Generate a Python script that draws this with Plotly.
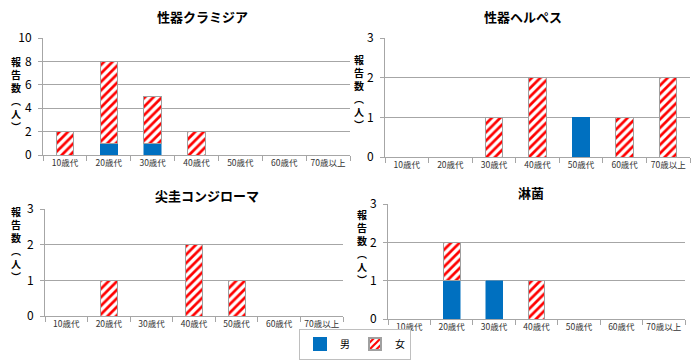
import plotly.graph_objects as go

categories = ["10歳代", "20歳代", "30歳代", "40歳代", "50歳代", "60歳代", "70歳以上"]

titles = ["性器クラミジア", "性器ヘルペス", "尖圭コンジローマ", "淋菌"]
y_title_chars = ["報", "告", "数", "︵", "人", "︶"]

chlamydia_male = [0, 1, 1, 0, 0, 0, 0]
chlamydia_female = [2, 7, 4, 2, 0, 0, 0]
herpes_male = [0, 0, 0, 0, 1, 0, 0]
herpes_female = [0, 0, 1, 2, 0, 1, 2]
condyloma_male = [0, 0, 0, 0, 0, 0, 0]
condyloma_female = [0, 1, 0, 2, 1, 0, 0]
gonorrhea_male = [0, 1, 1, 0, 0, 0, 0]
gonorrhea_female = [0, 1, 0, 1, 0, 0, 0]

y_max = [10, 3, 3, 3]
y_dtick = [2, 1, 1, 1]

male_series = [chlamydia_male, herpes_male, condyloma_male, gonorrhea_male]
female_series = [chlamydia_female, herpes_female, condyloma_female, gonorrhea_female]

W, H = 700, 361
# plot areas in pixels: (x0, x1, ytop, ybottom)
areas = [(43, 350, 38, 155), (385, 690, 38, 157), (45, 343, 209, 316), (388, 685, 204, 319)]
title_pos = [(202, 17), (523, 17), (207, 196), (531, 192)]
ytitle_pos = [(16, 94), (359, 92), (16, 244), (362, 247)]

BLUE = "#0070C0"
RED = "#FF0000"
GRID = "#A6A6A6"
FONT = "Noto Sans CJK JP"


def nz(vals):
    return [v if v else None for v in vals]


fig = go.Figure()
layout = {}
annotations = []
for i in range(4):
    sfx = "" if i == 0 else str(i + 1)
    xa, ya = "x" + sfx, "y" + sfx
    fig.add_trace(go.Bar(
        x=categories, y=nz(male_series[i]), name="男", xaxis=xa, yaxis=ya,
        marker=dict(color=BLUE, line=dict(color=BLUE, width=0.5)),
        showlegend=(i == 0), legendgroup="m",
    ))
    fig.add_trace(go.Bar(
        x=categories, y=nz(female_series[i]), name="女", xaxis=xa, yaxis=ya,
        marker=dict(color="white", line=dict(color="#A0A0A0", width=1),
                    pattern=dict(shape="/", fgcolor=RED, bgcolor="white", size=6, solidity=0.45, fillmode="replace")),
        showlegend=(i == 0), legendgroup="f",
    ))
    x0, x1, yt, yb = areas[i]
    layout["xaxis" + sfx] = dict(
        domain=[x0 / W, x1 / W], anchor=ya, type="category", automargin=False,
        showline=True, linecolor=GRID, linewidth=1,
        ticks="outside", tickson="boundaries", ticklen=5, tickcolor=GRID,
        tickangle=0,
        tickfont=dict(family=FONT, size=8.5, color="#333"), showgrid=False,
    )
    layout["yaxis" + sfx] = dict(
        domain=[(H - yb) / H, (H - yt) / H], anchor=xa, automargin=False,
        range=[0, y_max[i] * 1.0005], dtick=y_dtick[i], tick0=0,
        showline=True, linecolor=GRID, linewidth=1,
        ticks="outside", ticklen=4, tickcolor=GRID, ticklabelstandoff=4,
        showgrid=True, gridcolor=GRID, gridwidth=1, zeroline=False,
        tickfont=dict(family=FONT, size=12, color="#000"),
    )
    tx, ty = title_pos[i]
    annotations.append(dict(
        text="<b>" + titles[i] + "</b>", x=tx / W, y=(H - ty) / H, xref="paper", yref="paper",
        xanchor="center", yanchor="middle", showarrow=False,
        font=dict(family=FONT, size=13, color="#000"),
    ))
    ax, ay = ytitle_pos[i]
    annotations.append(dict(
        text="<b>" + "<br>".join(y_title_chars) + "</b>", x=ax / W, y=(H - ay) / H,
        xref="paper", yref="paper", xanchor="center", yanchor="middle",
        showarrow=False, font=dict(family=FONT, size=10, color="#000"), borderpad=0,
    ))

fig.update_layout(
    **layout,
    annotations=annotations,
    barmode="stack", bargap=0.6,
    width=W, height=H, margin=dict(l=0, r=0, t=0, b=0, pad=0, autoexpand=False),
    paper_bgcolor="white", plot_bgcolor="white",
    legend=dict(orientation="h", x=355 / W, y=(H - 344) / H, xanchor="center", yanchor="middle",
                bordercolor="#BFBFBF", borderwidth=1, font=dict(family=FONT, size=10, color="#000"),
                itemwidth=30, traceorder="normal", tracegroupgap=0, itemsizing="constant"),
    font=dict(family=FONT),
)

fig.write_html("out.html", config={"displayModeBar": False},
               post_script="document.body.style.margin='0';")
